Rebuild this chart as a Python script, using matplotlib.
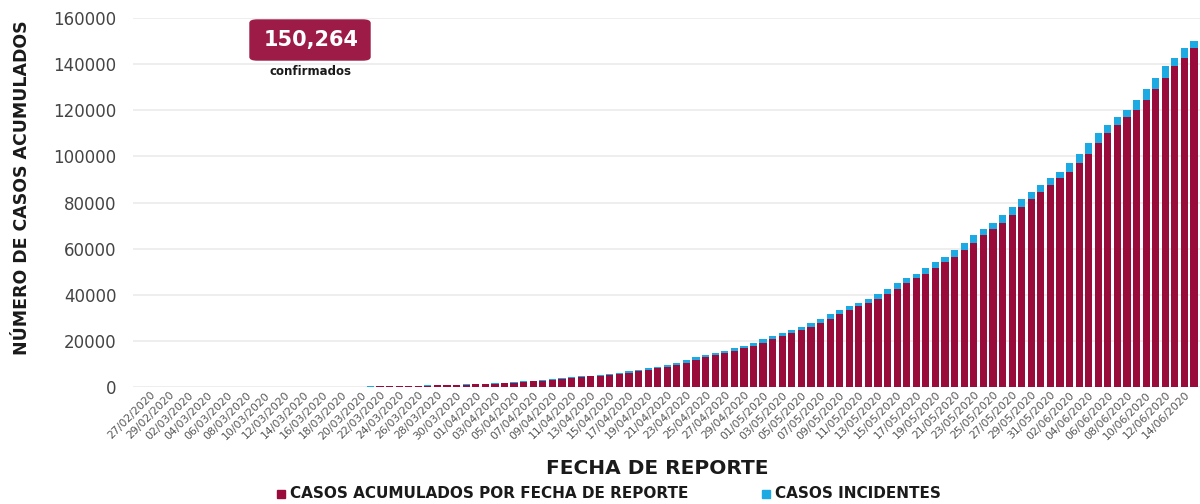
import matplotlib
matplotlib.use("Agg")
import matplotlib.pyplot as plt
from matplotlib.patches import FancyBboxPatch, Rectangle
import numpy as np
import pandas as pd

# ---- data ----
fechas = pd.date_range("2020-02-27", "2020-06-15", freq="D").strftime("%d/%m/%Y").tolist()
casos_totales = [
    1, 2, 4,
    4, 5, 5, 5, 5, 6, 6, 7, 7, 7, 8, 12, 26, 41, 53, 82, 93, 118, 164, 203, 251,
    316, 367, 405, 475, 585, 717, 848, 993, 1094, 1215,
    1378, 1510, 1688, 1890, 2143, 2439, 2785, 3181, 3441, 3844, 4219, 4661, 5014,
    5399, 5847, 6297, 6875, 7497, 8261, 8772, 9501, 10544, 11633, 12872, 13842,
    14677, 15529, 16752, 17799, 19224,
    20739, 22088, 23471, 24905, 26025, 27634, 29616, 31522, 33460, 35022, 36327,
    38324, 40186, 42595, 45032, 47144, 49219, 51633, 54346, 56594, 59567, 62527,
    65856, 68620, 71105, 74560, 78023, 81400, 84627, 87512, 90664,
    93435, 97326, 101238, 105680, 110026, 113619, 117103, 120102, 124301, 129184,
    133974, 139196, 142690, 146837, 150264,
]
acumulados = [0] + casos_totales[:-1]
incidentes = list(np.array(casos_totales) - np.array(acumulados))
y_ticks = [0, 20000, 40000, 60000, 80000, 100000, 120000, 140000, 160000]
total_label = "150,264"

RED = "#990B3A"
BLUE = "#1DA9E1"
BOX = "#9C1C47"
TXT = "#1a1a1a"

fig = plt.figure(figsize=(12, 5.04), dpi=100)
ax = fig.add_axes([0.111, 0.232, 0.889, 0.732])

x = np.arange(len(fechas))
ax.bar(x, acumulados, width=0.75, color=RED, zorder=3)
ax.bar(x, incidentes, width=0.75, bottom=acumulados, color=BLUE, zorder=3)

ax.set_ylim(0, 160000)
ax.set_xlim(-1.77, len(fechas) - 0.38)
ax.set_yticks(y_ticks)
ax.set_yticklabels([str(v) for v in y_ticks], fontsize=12, color="#444444")
ax.yaxis.grid(True, color="#ebebeb", linewidth=1.2, zorder=0)
ax.tick_params(axis="y", length=0, pad=12)
ax.tick_params(axis="x", length=0, pad=2)

ax.set_xticks(x[::2])
ax.set_xticklabels(fechas[::2], rotation=45, ha="right", va="top",
                   rotation_mode="anchor", fontsize=7.8, color="#555555")

for s in ax.spines.values():
    s.set_visible(False)

fig.text(0.018, 0.627, "NÚMERO DE CASOS ACUMULADOS", rotation=90, ha="center",
         va="center", fontsize=12.5, fontweight="bold", color=TXT)
fig.text(0.548, 0.071, "FECHA DE REPORTE", ha="center", va="center",
         fontsize=14.5, fontweight="bold", color=TXT)

# legend
fig.patches.append(Rectangle((277 / 1200, 1 - 498 / 504), 8 / 1200, 8 / 504,
                             transform=fig.transFigure, color=RED))
fig.text(290 / 1200, 1 - 494 / 504, "CASOS ACUMULADOS POR FECHA DE REPORTE",
         ha="left", va="center", fontsize=11, fontweight="bold", color=TXT)
fig.patches.append(Rectangle((762 / 1200, 1 - 498 / 504), 8 / 1200, 8 / 504,
                             transform=fig.transFigure, color=BLUE))
fig.text(775 / 1200, 1 - 494 / 504, "CASOS INCIDENTES",
         ha="left", va="center", fontsize=11, fontweight="bold", color=TXT)

# annotation box
fig.patches.append(FancyBboxPatch((250 / 1200, 1 - 60 / 504), 120 / 1200, 40 / 504,
                                  boxstyle="round,pad=0,rounding_size=0.006",
                                  transform=fig.transFigure, color=BOX,
                                  mutation_aspect=504 / 1200 * 2.4))
fig.text(311 / 1200, 1 - 40 / 504, total_label, ha="center", va="center",
         fontsize=15, fontweight="bold", color="white")
fig.text(311 / 1200, 1 - 72 / 504, "confirmados", ha="center", va="center",
         fontsize=8.5, fontweight="bold", color=TXT)

fig.savefig("out.png", dpi=100, facecolor="white")
